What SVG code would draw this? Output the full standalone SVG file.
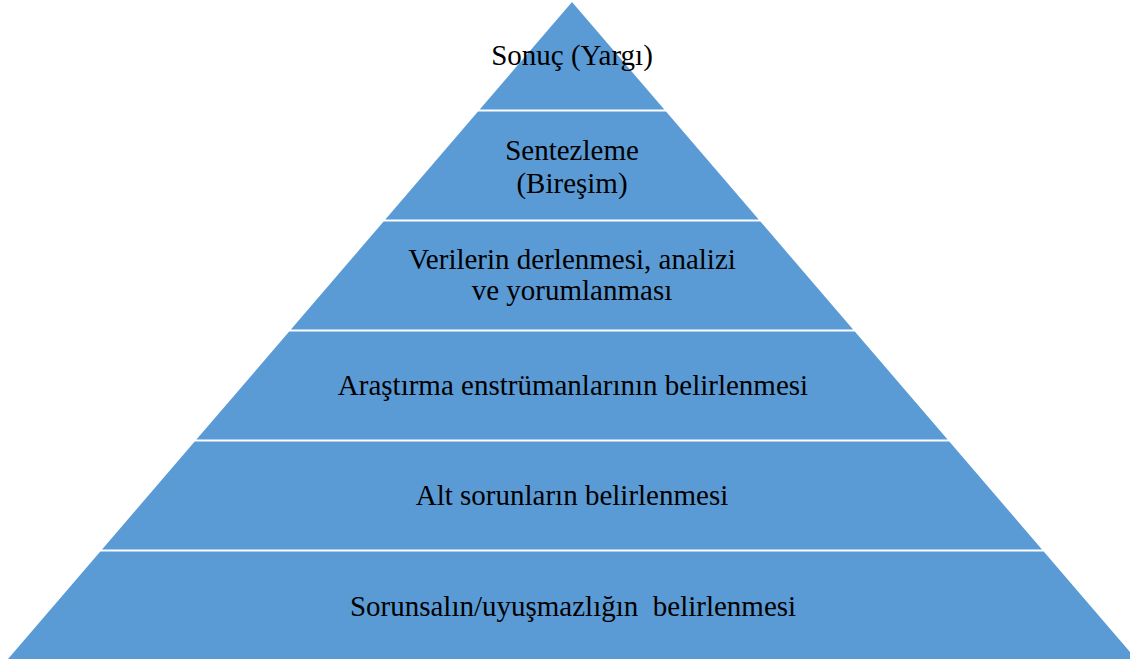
<svg xmlns="http://www.w3.org/2000/svg" width="1130" height="663" viewBox="0 0 1130 663">
<style>
.layer{fill:#5B9BD5;}
.t{font-family:"Liberation Serif","Times New Roman",serif;font-size:29px;fill:#000;text-anchor:middle;}
</style>
<rect width="1130" height="663" fill="#fff"/>
<g id="layer1"><polygon class="layer" points="572,2 664.3,109.5 479.7,109.5"/><text class="t" x="572" y="65">Sonuç (Yargı)</text></g>
<g id="layer2"><polygon class="layer" points="478,111.5 666,111.5 758.7,219.5 385.3,219.5"/><text class="t" x="572" y="160">Sentezleme</text><text class="t" x="572" y="193">(Bireşim)</text></g>
<g id="layer3"><polygon class="layer" points="383.6,221.5 760.4,221.5 853.1,329.5 290.9,329.5"/><text class="t" x="572" y="269">Verilerin derlenmesi, analizi</text><text class="t" x="572" y="300">ve yorumlanması</text></g>
<g id="layer4"><polygon class="layer" points="289.2,331.5 854.8,331.5 947.6,439.5 196.4,439.5"/><text class="t" x="573" y="395">Araştırma enstrümanlarının belirlenmesi</text></g>
<g id="layer5"><polygon class="layer" points="194.7,441.5 949.3,441.5 1042,549.5 102,549.5"/><text class="t" x="572" y="505">Alt sorunların belirlenmesi</text></g>
<g id="layer6"><polygon class="layer" points="100.3,551.5 1043.7,551.5 1136,659 8,659"/><text class="t" x="573" y="616" xml:space="preserve">Sorunsalın/uyuşmazlığın  belirlenmesi</text></g>
<g id="connectors"/>
</svg>
